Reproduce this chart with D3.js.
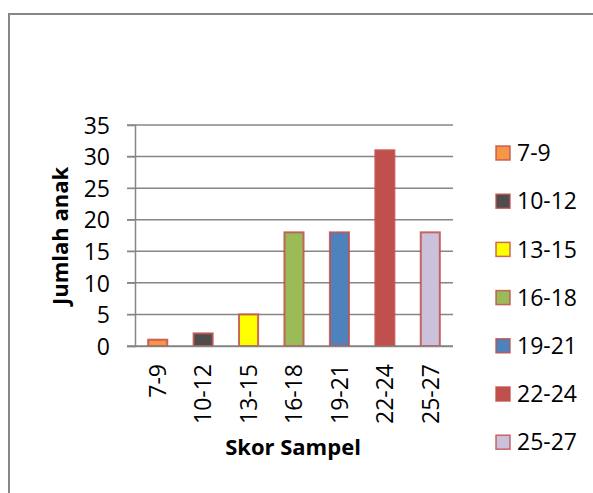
<!DOCTYPE html>
<html>
  <head>
    <script src="https://d3js.org/d3.v7.min.js"></script>
    <style>
      body { margin: 0; background: #fff; }
    </style>
  </head>
  <body>
    <svg width="593" height="493"></svg>

    <script type="text/javascript">
      var categories = ["7-9", "10-12", "13-15", "16-18", "19-21", "22-24", "25-27"];
      var values = [1, 2, 5, 18, 18, 31, 18];
      var colors = ["#F79646", "#4D4D4D", "#FFFF00", "#9BBB59", "#4F81BD", "#C0504D", "#CCC1DA"];
      var yTicks = [0, 5, 10, 15, 20, 25, 30, 35];

      var svg = d3.select("svg");
      var font = "'Open Sans', sans-serif";

      // chart frame
      svg.append("path")
        .attr("d", "M9,493 V14 H593")
        .attr("fill", "none")
        .attr("stroke", "#878787")
        .attr("stroke-width", 2);

      var x = d3.scaleBand().domain(categories).range([135, 453]).paddingInner(0.58).paddingOuter(0.29);
      var y = d3.scaleLinear().domain([0, 35]).range([346, 125]);

      // gridlines
      svg.append("g")
        .selectAll("line")
        .data(yTicks)
        .enter()
        .append("line")
        .attr("x1", 127)
        .attr("x2", 453)
        .attr("y1", function (d) { return y(d); })
        .attr("y2", function (d) { return y(d); })
        .attr("stroke", "#868686")
        .attr("stroke-width", 1.5);

      // y axis
      var yAxis = svg.append("g")
        .attr("transform", "translate(135,0)")
        .call(d3.axisLeft(y).tickValues(yTicks).tickSize(8).tickPadding(6));
      yAxis.select(".domain").attr("stroke", "#868686").attr("stroke-width", 1.5);
      yAxis.selectAll(".tick line").attr("stroke", "#868686");
      yAxis.selectAll("text")
        .style("font-family", font)
        .style("font-size", "23px")
        .attr("fill", "#000")
        .attr("x", -25)
        .attr("dy", "0.36em");

      // bars
      svg.append("g")
        .selectAll("rect")
        .data(values)
        .enter()
        .append("rect")
        .attr("x", function (d, i) { return x(categories[i]); })
        .attr("y", function (d) { return y(d); })
        .attr("width", x.bandwidth())
        .attr("height", function (d) { return y(0) - y(d); })
        .attr("fill", function (d, i) { return colors[i]; })
        .attr("stroke", "#C0504D")
        .attr("stroke-opacity", 0.85)
        .attr("stroke-width", 2);

      // x axis
      var xAxis = svg.append("g")
        .attr("transform", "translate(0,346)")
        .call(d3.axisBottom(x).tickSize(0).tickPadding(0));
      xAxis.select(".domain").attr("stroke", "#868686").attr("stroke-width", 1.5)
        .attr("d", "M127,0.5H453");
      xAxis.selectAll("text")
        .style("font-family", font)
        .style("font-size", "23px")
        .attr("fill", "#000")
        .attr("text-anchor", "end")
        .attr("transform", "rotate(-90)")
        .attr("x", -18)
        .attr("y", 0)
        .attr("dy", "0.36em");

      // axis titles
      svg.append("text")
        .attr("transform", "translate(68,236) rotate(-90)")
        .attr("text-anchor", "middle")
        .style("font-family", font)
        .style("font-size", "22px")
        .style("font-weight", "bold")
        .text("Jumlah anak");

      svg.append("text")
        .attr("x", 293)
        .attr("y", 455)
        .attr("text-anchor", "middle")
        .style("font-family", font)
        .style("font-size", "22px")
        .style("font-weight", "bold")
        .text("Skor Sampel");

      // legend
      var legend = svg.append("g")
        .selectAll("g")
        .data(categories)
        .enter()
        .append("g")
        .attr("transform", function (d, i) { return "translate(496," + (153 + i * 48.2) + ")"; });

      legend.append("rect")
        .attr("x", 0)
        .attr("y", -7)
        .attr("width", 14)
        .attr("height", 14)
        .attr("fill", function (d, i) { return colors[i]; })
        .attr("stroke", "#C0504D")
        .attr("stroke-opacity", 0.85)
        .attr("stroke-width", 1.5);

      legend.append("text")
        .attr("x", 21)
        .attr("dy", "0.36em")
        .style("font-family", font)
        .style("font-size", "23px")
        .text(function (d) { return d; });
    </script>
  </body>
</html>
